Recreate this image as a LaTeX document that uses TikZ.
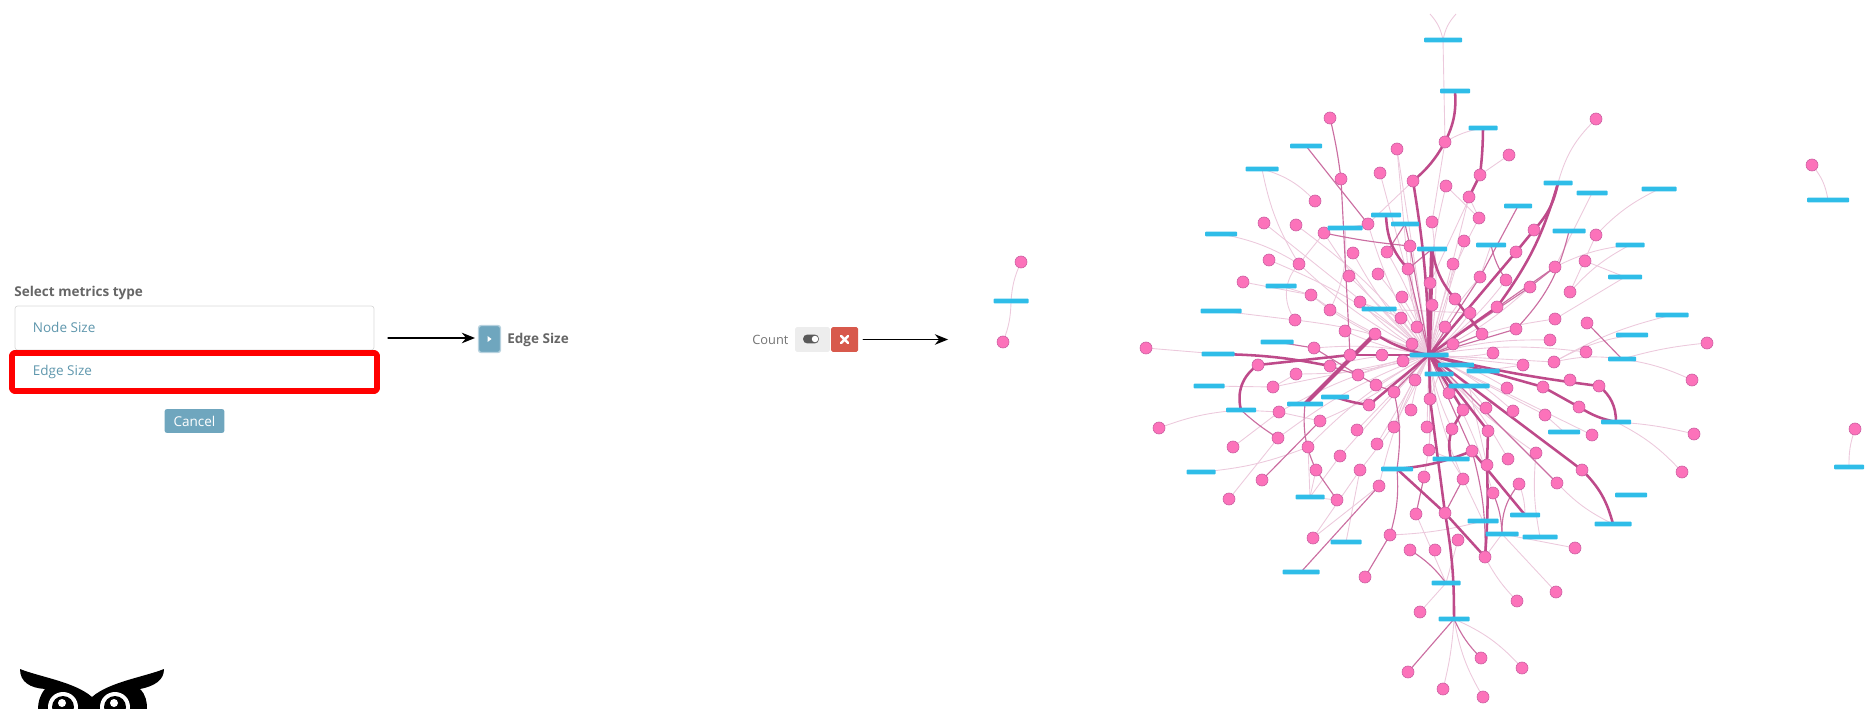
\documentclass[tikz,border=0pt]{standalone}
\usepackage{fontspec}
\setmainfont{Open Sans}
\usetikzlibrary{arrows.meta,backgrounds}
\definecolor{pinkfill}{HTML}{FC72BA}
\definecolor{pinkline}{HTML}{CC5FA2}
\definecolor{edgecol}{HTML}{BE4A8A}
\definecolor{barcol}{HTML}{2FBDE8}
\definecolor{uiblue}{HTML}{6FA6BE}
\definecolor{uitext}{HTML}{5F97AD}
\definecolor{uigray}{HTML}{666666}
\definecolor{uired}{HTML}{D8594C}
\tikzset{
	pinknode/.style={circle,fill=pinkfill,draw=pinkline,line width=0.35pt,minimum size=0.24cm,inner sep=0pt},
	barnode/.style={rectangle,fill=barcol,rounded corners=0.5pt,minimum height=0.095cm,inner sep=0pt},
	vheavy/.style={edgecol,line width=2.3pt},
	heavy/.style={edgecol,line width=1.45pt},
	medium/.style={edgecol!80,line width=0.65pt},
	faint/.style={edgecol!30,line width=0.5pt},
	flowarrow/.style={-{Stealth[length=7.5pt,width=6pt]},line width=0.7pt},
	uilabel/.style={font=\fontsize{7.7}{9}\selectfont,inner sep=0pt},
}
\begin{document}
\begin{tikzpicture}[x=0.02cm,y=-0.02cm,line join=round,line cap=round]
	\useasboundingbox (0,0) rectangle (1872,709);
	% left panel
	\node[uilabel,anchor=west,text=uigray,font=\fontsize{7.7}{9}\selectfont\bfseries] (title) at (14,293) {Select metrics type};
	\node[draw=black!15,fill=white,rounded corners=1.5pt,minimum width=7.18cm,minimum height=0.88cm,inner sep=0pt] (nodeBox) at (194.5,328) {};
	\node[uilabel,anchor=west,text=uitext] (nodeText) at (32.5,327.5) {Node Size};
	\node[draw=red,line width=3.2pt,rounded corners=1pt,minimum width=7.3cm,minimum height=0.76cm,inner sep=0pt] (edgeRow) at (194.5,372) {};
	\node[uilabel,anchor=west,text=uitext] (edgeText) at (32.5,371.5) {Edge Size};
	\node[fill=uiblue,rounded corners=1.5pt,minimum width=1.2cm,minimum height=0.48cm,inner sep=0pt,uilabel,text=white] (cancel) at (194.5,421) {Cancel};
	\path (388,338) coordinate (startA) (948,339.5) coordinate (endB);
	\node[fill=uiblue,draw=uiblue!50,line width=0.8pt,rounded corners=1.5pt,minimum width=0.44cm,minimum height=0.54cm,inner sep=0pt,outer sep=2pt] (playBtn) at (489.5,339) {};
	\fill[white] (487.5,336) -- (491.5,339) -- (487.5,342) -- cycle;
	\node[uilabel,anchor=west,text=uigray,font=\fontsize{7.7}{9}\selectfont\bfseries] (edgeLabel) at (507,340) {Edge Size};
	\draw[flowarrow] (startA) -- (startA-|playBtn.west);
	% count toggle
	\node[uilabel,anchor=west,text=black!55,font=\fontsize{7.3}{9}\selectfont] (countText) at (752,340) {Count};
	\node[fill=black!7,rounded corners=1pt,minimum width=0.7cm,minimum height=0.5cm,inner sep=0pt] (toggleBox) at (812.5,339.5) {};
	\node[fill=black!65,rounded corners=2.5pt,minimum width=0.32cm,minimum height=0.18cm,inner sep=0pt] (togglePill) at (811,339) {};
	\node[fill=white,circle,minimum size=0.13cm,inner sep=0pt] (toggleKnob) at (815,339) {};
	\node[fill=uired,rounded corners=1pt,minimum width=0.54cm,minimum height=0.5cm,inner sep=0pt,outer sep=3pt] (closeBtn) at (844.5,339.5) {};
	\draw[white,line width=1.4pt] (841,336) -- (848,343) (848,336) -- (841,343);
	\draw[flowarrow] (closeBtn) -- (endB);
	% owl, cut by the lower edge
	\fill[black] (20,669) .. controls (40,677) and (75,682) .. (92,697) .. controls (109,682) and (144,677) .. (164,669) .. controls (164,680) and (155,686) .. (140,689) .. controls (146,695) and (147,702) .. (147,709) -- (38,709) .. controls (38,702) and (40,695) .. (45,689) .. controls (30,688) and (20,682) .. (20,669) -- cycle;
	\foreach \x in {63,115}{
		\fill[white] (\x,707) circle (15);
		\fill[black] (\x,707) circle (11);
		\fill[white] (\x-1,703) circle (4);
	}
	% pink nodes
	\foreach \n/\x/\y in {1/1330/118,2/1596/119,3/1445/142,4/1397/149,5/1509/155,6/1812/165,7/1380/173,8/1480/175,9/1341/179,10/1413/181,
		11/1446/186,12/1469/197,13/1315/201,14/1479/218,15/1432/222,16/1264/223,17/1368/224,18/1296/225,19/1534/230,20/1324/233,
		21/1596/235,22/1464/241,23/1410/246,24/1387/252,25/1516/252,26/1353/253,27/1269/260,28/1585/261,29/1299/264,30/1453/264,
		31/1555/267,32/1408/269,33/1378/274,34/1349/276,35/1480/277,36/1506/280,37/1243/282,38/1430/283,39/1530/287,40/1570/292,
		41/1311/295,42/1402/297,43/1455/299,44/1360/302,45/1432/305,46/1497/307,47/1330/310,48/1470/313,49/1401/318,50/1555/319,
		51/1295/320,52/1587/323,53/1417/327,54/1445/327,55/1516/329,56/1345/331,57/1375/334,58/1482/334,59/1550/340,60/1707/343,
		61/1412/344,62/1453/344,63/1314/348,64/1146/348,65/1586/352,66/1493/353,67/1350/355,68/1382/355,69/1403/361,70/1554/362,
		71/1258/365,72/1330/366,73/1523/365,74/1296/374,75/1358/375,76/1415/380,77/1570/380,78/1692/380,79/1376/385,80/1599/386,
		81/1543/387,82/1273/387,83/1507/388,84/1394/392,85/1449/393,86/1430/399,87/1369/405,88/1579/407,89/1486/408,90/1411/410,
		91/1463/410,92/1513/411,93/1279/412,94/1545/415,95/1320/421,96/1394/427,97/1427/427,98/1159/428,99/1452/429,100/1357/430,
		101/1488/431,102/1694/434,103/1592/435,104/1855/429,105/1278/438,106/1377/444,107/1233/447,108/1308/447,109/1429/450,110/1472/451,
		111/1536/453,112/1340/456,113/1508/459,114/1487/465,115/1316/470,116/1360/470,117/1582/470,118/1682/472,119/1424/477,120/1463/479,
		121/1262/480,122/1557/483,123/1379/486,124/1519/484,125/1493/493,126/1229/499,127/1337/500,128/1445/513,129/1416/514,130/1390/535,
		131/1313/538,132/1458/540,133/1575/548,134/1410/550,135/1435/550,136/1485/557,137/1365/577,138/1556/592,139/1517/601,140/1420/612,
		141/1481/658,142/1522/668,143/1408/672,144/1443/689,145/1483/697,146/1021/262,147/1003/342}
	\node[pinknode] (P\n) at (\x,\y) {};
	% blue bars
	\foreach \n/\x/\y/\w in {1/1443/40/38,2/1455/91/30,3/1483/128/29,4/1306/146/32,5/1262/169/33,6/1558/183/29,7/1659/189/35,8/1592/193/31,9/1828/200/42,
		10/1518/206/28,11/1386/215/30,12/1405/224/28,13/1345/228/35,14/1569/231/33,15/1221/234/32,16/1491/245/30,17/1630/245/29,18/1432/249/30,19/1625/277/34,
		20/1281/286/31,21/1379/309/35,22/1221/311/41,23/1672/315/33,24/1632/335/32,25/1277/342/33,26/1218/354/33,27/1429/355/39,28/1622/359/28,29/1456/365/36,
		30/1483/371/33,31/1439/374/29,32/1469/386/41,33/1209/386/31,34/1335/397/28,35/1305/404/36,36/1241/410/30,37/1616/422/30,38/1564/432/32,39/1451/459/37,
		40/1397/469/32,41/1201/472/29,42/1631/495/32,43/1310/497/29,44/1525/515/30,45/1483/521/31,46/1613/524/37,47/1502/534/33,48/1540/537/35,49/1346/542/31,
		50/1301/572/37,51/1446/583/29,52/1454/619/31,53/1011/301/35,54/1849/467/30}
	\node[barnode,minimum width=\w*0.02cm] (B\n) at (\x,\y) {};
	\path (1430,14) coordinate (cutL) (1456,14) coordinate (cutR);
	% edges behind the nodes
	\begin{scope}[on background layer]
		\foreach \n [evaluate=\n as \b using {mod(\n,3)*8-8}] in {4,7,11,14,15,16,17,18,20,22,23,24,26,27,29,30,32,33,34,35,36,38,39,41,42,44,45,47,48,49,50,51,53,54,56,59,61,62,63,65,66,69,70,72,73,74,75,76,79,82,83,84,85,89,90,92,93,94,96,97,99,100,103,105,106,108,109,111,112,113,116,119,120,123,125,95}
		\draw[faint] (B27.center) to[bend left=\b] (P\n.center);
		\foreach \a/\c/\b in {B1/cutL/-15,B1/cutR/15,B1/P3/0,B3/P3/-10,P3/P15/0,P4/P32/0,P5/P8/0,P8/P38/0,P11/P14/0,P14/P12/0,B5/P13/15,B5/P29/-10,B15/P29/10,P20/P29/0,P29/P51/-40,
			B20/P41/0,P37/P41/0,P41/P47/0,B22/P51/0,P64/B26/0,B33/P82/0,P82/P74/0,B36/P93/0,P93/P95/0,P98/B36/8,P107/P93/0,B41/P108/-8,P126/P105/0,B43/P108/0,B43/P112/0,B43/P115/0,B43/P127/0,
			P131/P116/0,P130/B45/-6,P129/B51/0,P132/B51/0,P140/B51/0,P139/P136/8,P138/B47/0,P133/B47/0,B48/P111/8,B38/P94/0,B52/P144/5,B52/P145/-10,B52/P142/12,P118/B37/-10,B37/P102/5,
			B28/P60/5,B28/P78/8,B19/P28/0,B19/P50/0,B7/P21/-10,B8/P31/0,B6/P2/15,P21/P40/0,P6/B9/15,P104/B54/-10,P146/B53/-10,B53/P147/10,B39/P109/0,B39/P120/0,B32/P114/0,B31/P86/0,B30/P73/0,
			B21/P49/0,B21/P44/0,B21/P48/0,B13/P47/15,B13/P17/0,B16/P35/0,B49/P116/0,P124/B44/10,B45/P120/0,B23/P70/-8,P12/B27/0,P10/P17/0,B17/P40/-10,B28/P70/-10,B24/P70/-10,B17/P31/-10,P136/B47/0,P131/P123/0,P122/B46/-10}
		\draw[faint] (\a.center) to[bend left=\b] (\c.center);
		\foreach \a/\c/\b in {P1/P9/3,P9/P67/0,P32/B27/0,B18/P32/0,B12/P23/0,P23/B27/0,B12/P24/0,P20/P23/-3,B14/P55/15,P55/B27/0,P58/B27/0,B10/P35/0,P35/B27/0,B16/P36/-10,B28/P52/0,P31/P39/0,P31/B27/0,P39/B27/0,
			B27/P122/0,P72/P75/0,P75/P79/0,P79/P84/0,P84/B27/0,B36/P105/-5,P115/P127/0,B35/P115/-15,P121/P95/0,B50/P123/0,P119/P129/0,P137/P130/0,P130/B40/-10,P84/B40/10,B27/P110/0,P110/P136/8,P124/B47/-20,P125/B47/10,
			P141/B52/10,P143/B52/0,P134/B51/10,P120/P128/0,B25/P63/0,P63/P75/0,B4/P17/0}
		\draw[medium] (\a.center) to[bend left=\b] (\c.center);
		\foreach \a/\c/\b in {B2/P3/15,P3/P10/10,P10/B27/4,B3/P8/3,P8/P12/0,B11/P32/-20,B18/P43/-15,P43/P58/0,B6/P19/15,P19/P25/0,P25/B27/0,B6/P46/10,P46/B27/0,B27/P80/-3,P80/B37/25,B27/P81/0,P81/P88/0,P88/B37/-10,B27/P117/0,P117/B46/15,
			B26/P72/5,P71/P67/0,P67/P68/0,P68/B27/0,P71/B36/-35,P57/B27/-10,B34/P87/-5,P87/B27/0,B40/P128/0,P128/P136/0,B40/P110/-8,B27/P86/0,P86/P128/0,P128/B52/5,B27/P101/0,P101/P114/0,P114/P136/3,B27/P91/0,P91/P99/0,P99/B39/-15,P110/B44/0}
		\draw[heavy] (\a.center) to[bend left=\b] (\c.center);
		\foreach \a/\c in {B18/B27,B35/P57}
		\draw[vheavy] (\a.center) -- (\c.center);
	\end{scope}
\end{tikzpicture}
\end{document}
